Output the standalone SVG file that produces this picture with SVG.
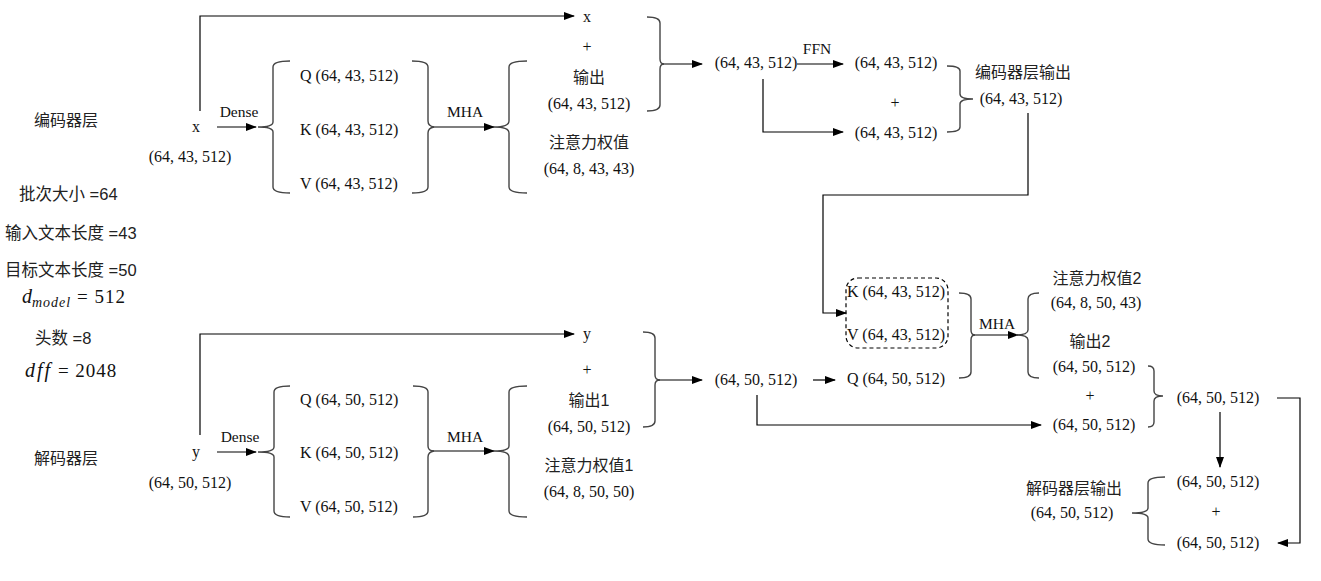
<svg xmlns="http://www.w3.org/2000/svg" width="1321" height="581" viewBox="0 0 1321 581">
<style>
.t{font-family:"Liberation Serif","Noto Sans CJK SC",serif;font-size:16px;fill:#111;text-anchor:middle}
.ts{font-family:"Liberation Serif",serif;font-size:16px;fill:#111}
.l{font-family:"Liberation Serif",serif;font-size:15.5px;fill:#111;text-anchor:middle}
.c{font-family:"Liberation Sans","Noto Sans CJK SC",sans-serif;font-size:16px;fill:#222;text-anchor:middle}
.cs{font-family:"Liberation Sans","Noto Sans CJK SC",sans-serif;font-size:16.5px;fill:#222}
.m{font-family:"Liberation Serif",serif;fill:#111}
.br{fill:none;stroke:#444;stroke-width:1.4}
.ln{fill:none;stroke:#000;stroke-width:1.2}
.ar{fill:none;stroke:#000;stroke-width:1.2;marker-end:url(#ah)}
.box{fill:none;stroke:#000;stroke-width:1.2;stroke-dasharray:4 3}
</style>
<defs>
<marker id="ah" markerUnits="userSpaceOnUse" markerWidth="11" markerHeight="8" refX="10" refY="4" orient="auto">
<path d="M0,0 L11,4 L0,8 z" fill="#000"/>
</marker>
</defs>
<rect width="1321" height="581" fill="#fff"/>

<g id="connectors">
<path class="ar" d="M200,111 V16 H574"/>
<path class="ar" d="M217,127 H256"/>
<path class="ar" d="M432,127 H494"/>
<path class="ar" d="M662,64 H702"/>
<path class="ar" d="M797,64 H843"/>
<path class="ar" d="M763,79 V132 H843"/>
<path class="ar" d="M1028,113 V195 H823 V313 H846"/>
<path class="ar" d="M200,435 V334 H574"/>
<path class="ar" d="M217,452 H256"/>
<path class="ar" d="M432,451 H494"/>
<path class="ar" d="M658,380 H702"/>
<path class="ar" d="M813,380 H835"/>
<path class="ar" d="M757,395 V425 H1041"/>
<path class="ar" d="M972,335 H1018"/>
<path class="ar" d="M1220,412 V467"/>
<path class="ar" d="M1277,398 H1300 V543 H1278"/>
</g>

<g id="params">
<text class="cs" x="19" y="200">批次大小 =64</text>
<text class="cs" x="5" y="239">输入文本长度 =43</text>
<text class="cs" x="5" y="276">目标文本长度 =50</text>
<text x="22" y="303" class="m"><tspan font-style="italic" font-size="20">d</tspan><tspan font-style="italic" font-size="14" dy="4" letter-spacing="1">model</tspan><tspan font-size="19" dy="-4" letter-spacing="1"> = 512</tspan></text>
<text class="cs" x="35" y="344">头数 =8</text>
<text x="25" y="377" class="m"><tspan font-style="italic" font-size="20" letter-spacing="2">dff</tspan><tspan font-size="19" letter-spacing="1"> = 2048</tspan></text>
</g>

<g id="encoder-label"><text class="c" x="66" y="126">编码器层</text></g>
<g id="decoder-label"><text class="c" x="66" y="464">解码器层</text></g>

<g id="enc-input">
<text class="t" x="196" y="132">x</text>
<text class="t" x="190" y="162">(64, 43, 512)</text>
<text class="l" x="239" y="117">Dense</text>
</g>
<g id="enc-qkv">
<path class="br" d="M290,61 Q273,61 273,67 L273,122 Q273,127 258,127 Q273,127 273,132 L273,187 Q273,193 290,193"/>
<text class="ts" x="300" y="81">Q (64, 43, 512)</text>
<text class="ts" x="300" y="135">K (64, 43, 512)</text>
<text class="ts" x="300" y="189">V (64, 43, 512)</text>
<path class="br" d="M412,61 Q428,61 428,67 L428,121 Q428,126 434,127 Q428,128 428,133 L428,187 Q428,193 412,193"/>
<text class="l" x="465" y="117">MHA</text>
</g>
<g id="enc-mha-out">
<path class="br" d="M527,61 Q509,61 509,67 L509,121 Q509,127 494,127 Q509,127 509,133 L509,187 Q509,193 527,193"/>
<text class="t" x="587" y="22">x</text>
<text class="t" x="587" y="52">+</text>
<text class="c" x="589" y="83">输出</text>
<text class="t" x="589" y="109">(64, 43, 512)</text>
<text class="c" x="589" y="148">注意力权值</text>
<text class="t" x="589" y="174">(64, 8, 43, 43)</text>
<path class="br" d="M647,17 Q660,17 660,23 L660,59 Q660,64 664,64 Q660,64 660,69 L660,105 Q660,111 647,111"/>
</g>
<g id="enc-add1">
<text class="t" x="756" y="68">(64, 43, 512)</text>
<text class="l" x="817" y="54">FFN</text>
</g>
<g id="enc-ffn">
<text class="t" x="896" y="68">(64, 43, 512)</text>
<text class="t" x="895" y="108">+</text>
<text class="t" x="896" y="138">(64, 43, 512)</text>
<path class="br" d="M947,66 Q960,66 960,71 L960,94 Q960,99 973,99 Q960,99 960,104 L960,127 Q960,132 947,132"/>
</g>
<g id="enc-output">
<text class="c" x="1023" y="78">编码器层输出</text>
<text class="t" x="1021" y="104">(64, 43, 512)</text>
</g>

<g id="dec-input">
<text class="t" x="196" y="457">y</text>
<text class="t" x="190" y="488">(64, 50, 512)</text>
<text class="l" x="240" y="442">Dense</text>
</g>
<g id="dec-qkv">
<path class="br" d="M290,386 Q274,386 274,392 L274,447 Q274,452 258,452 Q274,452 274,457 L274,511 Q274,517 290,517"/>
<text class="ts" x="300" y="405">Q (64, 50, 512)</text>
<text class="ts" x="300" y="458">K (64, 50, 512)</text>
<text class="ts" x="300" y="512">V (64, 50, 512)</text>
<path class="br" d="M413,386 Q428,386 428,392 L428,446 Q428,451 434,451 Q428,452 428,457 L428,511 Q428,517 413,517"/>
<text class="l" x="465" y="442">MHA</text>
</g>
<g id="dec-mha-out">
<path class="br" d="M527,386 Q509,386 509,392 L509,446 Q509,451 494,451 Q509,451 509,457 L509,511 Q509,517 527,517"/>
<text class="t" x="587" y="339">y</text>
<text class="t" x="587" y="375">+</text>
<text class="c" x="589" y="406">输出1</text>
<text class="t" x="589" y="432">(64, 50, 512)</text>
<text class="c" x="589" y="471">注意力权值1</text>
<text class="t" x="589" y="497">(64, 8, 50, 50)</text>
<path class="br" d="M643,332 Q655,332 655,338 L655,375 Q655,380 660,380 Q655,380 655,385 L655,421 Q655,427 643,427"/>
</g>
<g id="dec-add1">
<text class="t" x="756" y="385">(64, 50, 512)</text>
</g>
<g id="cross-kv">
<rect class="box" x="846" y="278" width="102" height="70" rx="12"/>
<text class="t" x="896" y="297">K (64, 43, 512)</text>
<text class="t" x="896" y="340">V (64, 43, 512)</text>
</g>
<g id="cross-q">
<text class="t" x="896" y="384">Q (64, 50, 512)</text>
<path class="br" d="M959,293 Q971,293 971,299 L971,330 Q971,335 975,335 Q971,335 971,340 L971,372 Q971,378 959,378"/>
<text class="l" x="997" y="329">MHA</text>
</g>
<g id="cross-out">
<path class="br" d="M1039,293 Q1028,293 1028,299 L1028,330 Q1028,335 1016,335 Q1028,335 1028,340 L1028,372 Q1028,378 1039,378"/>
<text class="c" x="1097" y="284">注意力权值2</text>
<text class="t" x="1096" y="308">(64, 8, 50, 43)</text>
<text class="c" x="1090" y="347">输出2</text>
<text class="t" x="1094" y="372">(64, 50, 512)</text>
<text class="t" x="1090" y="401">+</text>
<text class="t" x="1094" y="430">(64, 50, 512)</text>
<path class="br" d="M1148,366 Q1154,366 1154,371 L1154,391 Q1154,396 1163,396 Q1154,396 1154,401 L1154,422 Q1154,427 1148,427"/>
</g>
<g id="dec-add2">
<text class="t" x="1218" y="403">(64, 50, 512)</text>
</g>
<g id="dec-ffn">
<text class="t" x="1218" y="487">(64, 50, 512)</text>
<text class="t" x="1216" y="517">+</text>
<text class="t" x="1218" y="548">(64, 50, 512)</text>
<path class="br" d="M1165,477 Q1148,477 1148,483 L1148,508 Q1148,513 1132,513 Q1148,513 1148,518 L1148,539 Q1148,545 1165,545"/>
</g>
<g id="dec-output">
<text class="c" x="1074" y="494">解码器层输出</text>
<text class="t" x="1072" y="518">(64, 50, 512)</text>
</g>
</svg>
